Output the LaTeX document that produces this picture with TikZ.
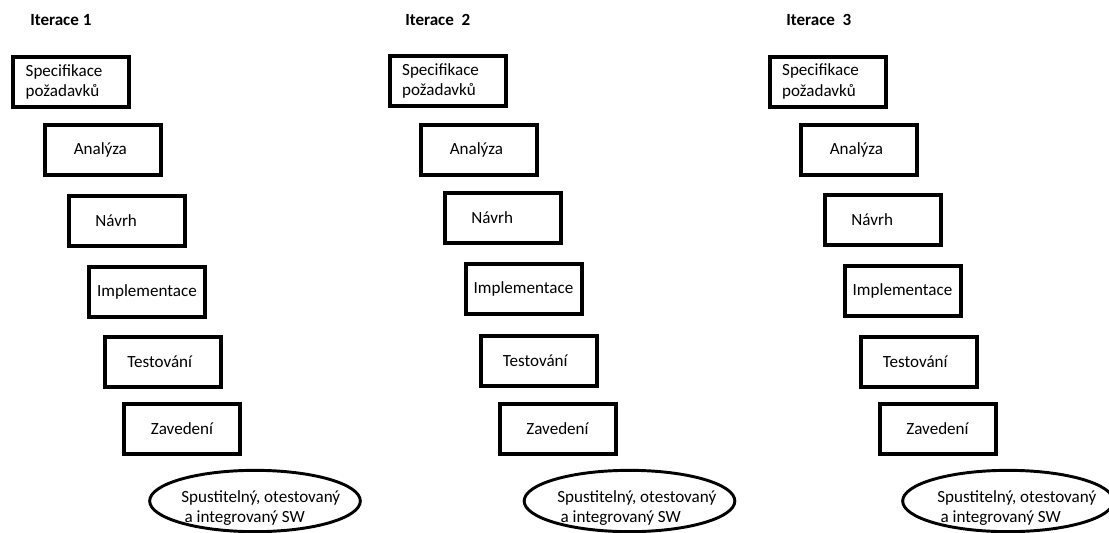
\documentclass[tikz,border=0pt]{standalone}
\usepackage{fontspec}
\setmainfont{Carlito}
\usetikzlibrary{shapes.geometric}
\begin{document}
\begin{tikzpicture}[x=0.75pt,y=-0.75pt,
  every node/.style={font=\fontsize{12.8pt}{13.5pt}\selectfont},
  stepbox/.style={draw, line width=3pt, minimum width=87pt, minimum height=37.5pt,
    inner sep=0pt, align=center},
  specbox/.style={stepbox, text width=68pt, align=left,
    font=\fontsize{12.8pt}{15.5pt}\selectfont},
  title/.style={font=\fontsize{12.8pt}{13.5pt}\selectfont\bfseries, anchor=west, inner sep=0pt},
  oval/.style={draw, ellipse, line width=2.2pt, minimum width=158pt, minimum height=46pt, inner sep=0pt},
  ovaltext/.style={align=left, inner sep=0pt, anchor=west,
    font=\fontsize{12.8pt}{15pt}\selectfont}]
\useasboundingbox (0,0) rectangle (1109,532);

% ---- Iterace 1 ----
\node[title] (it1) at (30,20) {Iterace 1};
\node[specbox] (s1) at (71,82) {Specifikace\\požadavků};
\node[stepbox] (a1) at (103,150) {Analýza\hspace*{4pt}};
\node[stepbox] (n1) at (126.5,220.5) {Návrh\hspace*{15.5pt}};
\node[stepbox] (i1) at (147,291.5) {Implementace};
\node[stepbox] (t1) at (163,362) {Testování\hspace*{5pt}};
\node[stepbox] (z1) at (182,429) {Zavedení};
\node[oval] (e1) at (255,501) {};
\node[ovaltext] (o1) at (181,508) {Spustitelný, otestovaný\\\hspace*{2.5pt}a integrovaný SW};

% ---- Iterace 2 ----
\node[title] (it2) at (405,20) {Iterace\ \ 2};
\node[specbox] (s2) at (447.5,81) {Specifikace\\požadavků};
\node[stepbox] (a2) at (479,150) {Analýza\hspace*{4pt}};
\node[stepbox] (n2) at (502.5,218) {Návrh\hspace*{15.5pt}};
\node[stepbox] (i2) at (523.5,289) {Implementace};
\node[stepbox] (t2) at (538.5,360.5) {Testování\hspace*{5pt}};
\node[stepbox] (z2) at (557.5,428.5) {Zavedení};
\node[oval] (e2) at (629.5,501) {};
\node[ovaltext] (o2) at (557,508) {Spustitelný, otestovaný\\\hspace*{2.5pt}a integrovaný SW};

% ---- Iterace 3 ----
\node[title] (it3) at (786,20) {Iterace\ \ 3};
\node[specbox] (s3) at (827.5,81.5) {Specifikace\\požadavků};
\node[stepbox] (a3) at (859,150) {Analýza\hspace*{4pt}};
\node[stepbox] (n3) at (882.5,219.5) {Návrh\hspace*{15.5pt}};
\node[stepbox] (i3) at (902.5,290.5) {Implementace};
\node[stepbox] (t3) at (918.5,361.5) {Testování\hspace*{5pt}};
\node[stepbox] (z3) at (937.5,429) {Zavedení};
\node[oval] (e3) at (1008,501) {};
\node[ovaltext] (o3) at (937,508) {Spustitelný, otestovaný\\\hspace*{2.5pt}a integrovaný SW};
\end{tikzpicture}
\end{document}
